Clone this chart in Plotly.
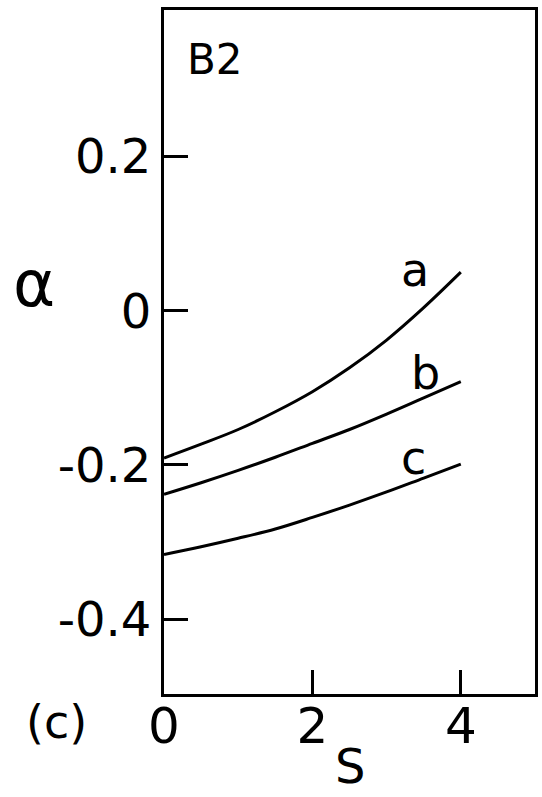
import plotly.graph_objects as go

# s values at which the three curves are sampled
s_vals = [0, 0.5, 1, 1.5, 2, 2.5, 3, 3.5, 4]

# alpha(s) for the three cases
alpha_a = [-0.191, -0.173, -0.154, -0.131, -0.105, -0.074, -0.038, 0.004, 0.050]
alpha_b = [-0.238, -0.223, -0.207, -0.190, -0.172, -0.154, -0.134, -0.113, -0.092]
alpha_c = [-0.316, -0.306, -0.295, -0.283, -0.268, -0.252, -0.235, -0.217, -0.199]

curve_names = ["a", "b", "c"]
curve_label_pos = [(3.38, 0.053), (3.52, -0.081), (3.36, -0.191)]

x_tickvals = [0, 2, 4]
x_ticktext = ["0", "2", "4"]
y_tickvals = [0.2, 0, -0.2, -0.4]
y_ticktext = ["0.2", "0", "-0.2", "-0.4"]

FONT = "DejaVu Sans"
INK = "black"

fig = go.Figure()
for name, ys in zip(curve_names, [alpha_a, alpha_b, alpha_c]):
    fig.add_trace(go.Scatter(
        x=s_vals, y=ys, mode="lines", name=name,
        line=dict(color=INK, width=3, shape="spline"),
        showlegend=False, hoverinfo="skip",
    ))

annotations = []
for name, (sx, ay) in zip(curve_names, curve_label_pos):
    annotations.append(dict(x=sx, y=ay, xref="x", yref="y", text=name,
                            showarrow=False, xanchor="center", yanchor="middle",
                            font=dict(family=FONT, size=46, color=INK)))

annotations += [
    dict(x=0.69, y=0.326, xref="x", yref="y", text="B2", showarrow=False,
         xanchor="center", yanchor="middle",
         font=dict(family=FONT, size=42, color=INK)),
    dict(x=-0.351, y=0.600, xref="paper", yref="paper", text="α", showarrow=False,
         xanchor="center", yanchor="middle",
         font=dict(family=FONT, size=64, color=INK)),
    dict(x=0.501, y=-0.105, xref="paper", yref="paper", text="S", showarrow=False,
         xanchor="center", yanchor="middle",
         font=dict(family=FONT, size=48, color=INK)),
    dict(x=-0.290, y=-0.041, xref="paper", yref="paper", text="(c)", showarrow=False,
         xanchor="center", yanchor="middle",
         font=dict(family=FONT, size=46, color=INK)),
]

fig.update_layout(
    width=542, height=797,
    margin=dict(l=164, r=4, t=10, b=103),
    paper_bgcolor="white", plot_bgcolor="white",
    font=dict(family=FONT, color=INK),
    annotations=annotations,
    xaxis=dict(
        range=[0, 5], showgrid=False, zeroline=False,
        showline=True, linecolor=INK, linewidth=3, mirror=True,
        ticks="inside", ticklen=24, tickwidth=3, tickcolor=INK,
        tickvals=x_tickvals, ticktext=x_ticktext,
        ticklabelstandoff=-14,
        tickfont=dict(family=FONT, size=50, color=INK),
    ),
    yaxis=dict(
        range=[-0.497, 0.39], showgrid=False, zeroline=False,
        showline=True, linecolor=INK, linewidth=3, mirror=True,
        ticks="inside", ticklen=24, tickwidth=3, tickcolor=INK,
        tickvals=y_tickvals, ticktext=y_ticktext,
        tickfont=dict(family=FONT, size=48, color=INK),
    ),
)

fig.write_html("out.html")
